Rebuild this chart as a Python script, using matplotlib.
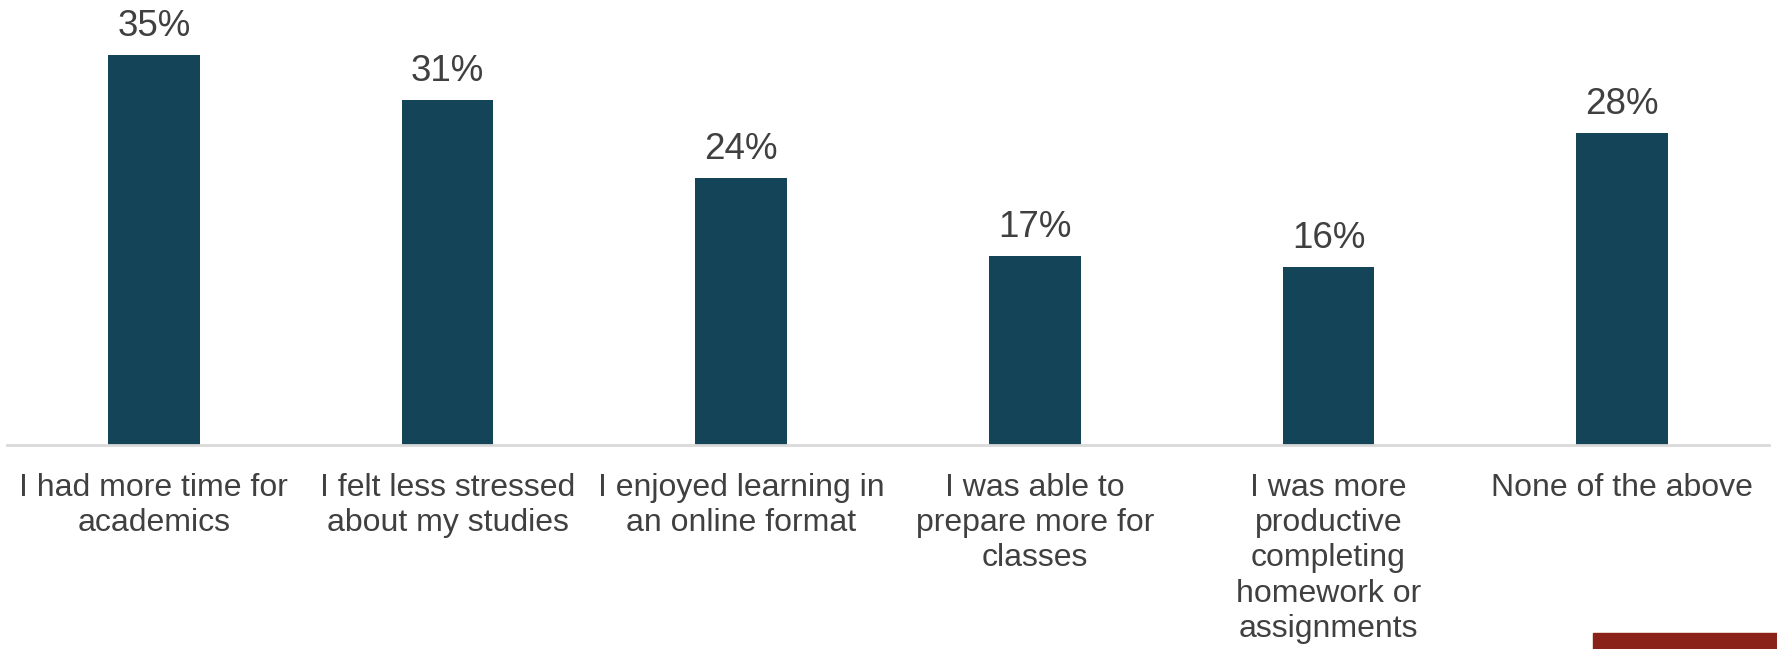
import matplotlib
matplotlib.use("Agg")
import matplotlib.pyplot as plt
from matplotlib.patches import Rectangle

categories = [
    "I had more time for\nacademics",
    "I felt less stressed\nabout my studies",
    "I enjoyed learning in\nan online format",
    "I was able to\nprepare more for\nclasses",
    "I was more\nproductive\ncompleting\nhomework or\nassignments",
    "None of the above",
]
values = [35, 31, 24, 17, 16, 28]

bar_color = "#134457"
text_color = "#404040"
plt.rcParams["font.family"] = ["Liberation Sans", "DejaVu Sans"]

fig = plt.figure(figsize=(17.77, 6.49), dpi=100)
ax = fig.add_axes([7 / 1777, 1 - 445 / 649, 1762 / 1777, 445 / 649])

x = list(range(len(categories)))
bars = ax.bar(x, values, width=0.313, color=bar_color, zorder=2)
ax.set_xlim(-0.5, len(categories) - 0.5)
ax.set_ylim(0, 39.95)

for rect, v in zip(bars, values):
    ax.annotate(f"{v}%", (rect.get_x() + rect.get_width() / 2, v),
                xytext=(0, 8), textcoords="offset points",
                ha="center", va="bottom", fontsize=26.5, color=text_color)

ax.set_xticks(x)
ax.set_xticklabels(categories, fontsize=23, color=text_color, linespacing=1.23)
ax.tick_params(axis="x", length=0, pad=20)
ax.set_yticks([])
for side in ("top", "left", "right"):
    ax.spines[side].set_visible(False)
ax.spines["bottom"].set_color("#D9D9D9")
ax.spines["bottom"].set_linewidth(2)
ax.spines["bottom"].set_zorder(3)

# accent strip in the lower right corner
fig.patches.append(Rectangle((1593 / 1777, 0), 1 - 1593 / 1777, 16 / 649,
                             transform=fig.transFigure, color="#8B2219"))

fig.savefig("out.png", dpi=100)
